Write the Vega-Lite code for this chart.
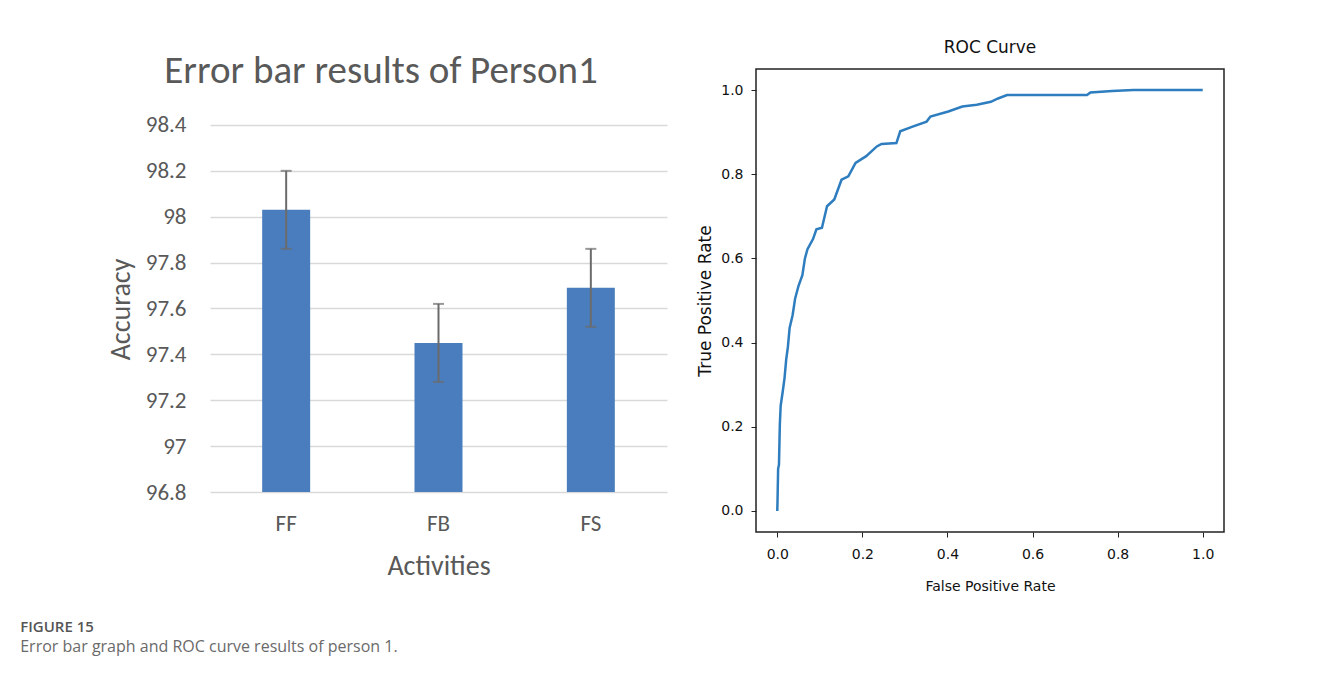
{
  "$schema": "https://vega.github.io/schema/vega-lite/v6.json",
  "background": "white",
  "padding": {"left": 20, "top": 38, "right": 20, "bottom": 20},
  "spacing": 28,
  "title": {
    "text": "FIGURE 15",
    "subtitle": "Error bar graph and ROC curve results of person 1.",
    "orient": "bottom",
    "anchor": "start",
    "frame": "bounds",
    "dx": -87,
    "offset": 26,
    "font": "Open Sans",
    "fontSize": 15,
    "fontWeight": 600,
    "color": "#555555",
    "subtitleFont": "Open Sans",
    "subtitleFontSize": 16,
    "subtitleColor": "#6a6a6a",
    "subtitlePadding": 4
  },
  "datasets": {
    "bars": [
      {"activity": "FF", "accuracy": 98.03, "lo": 97.86, "hi": 98.2},
      {"activity": "FB", "accuracy": 97.45, "lo": 97.28, "hi": 97.62},
      {"activity": "FS", "accuracy": 97.69, "lo": 97.52, "hi": 97.86}
    ],
    "roc": [
      {"fpr": 0.0, "tpr": 0.0},
      {"fpr": 0.0005, "tpr": 0.02},
      {"fpr": 0.002, "tpr": 0.1},
      {"fpr": 0.004, "tpr": 0.11},
      {"fpr": 0.006, "tpr": 0.205},
      {"fpr": 0.008, "tpr": 0.25},
      {"fpr": 0.013, "tpr": 0.285},
      {"fpr": 0.017, "tpr": 0.315},
      {"fpr": 0.021, "tpr": 0.36},
      {"fpr": 0.025, "tpr": 0.39},
      {"fpr": 0.029, "tpr": 0.435},
      {"fpr": 0.036, "tpr": 0.465},
      {"fpr": 0.042, "tpr": 0.505},
      {"fpr": 0.05, "tpr": 0.535},
      {"fpr": 0.059, "tpr": 0.56},
      {"fpr": 0.065, "tpr": 0.6},
      {"fpr": 0.071, "tpr": 0.622},
      {"fpr": 0.084, "tpr": 0.646},
      {"fpr": 0.092, "tpr": 0.669},
      {"fpr": 0.105, "tpr": 0.673},
      {"fpr": 0.117, "tpr": 0.724},
      {"fpr": 0.134, "tpr": 0.74},
      {"fpr": 0.151, "tpr": 0.787},
      {"fpr": 0.167, "tpr": 0.795},
      {"fpr": 0.184, "tpr": 0.827},
      {"fpr": 0.209, "tpr": 0.843},
      {"fpr": 0.234, "tpr": 0.866},
      {"fpr": 0.245, "tpr": 0.872},
      {"fpr": 0.28, "tpr": 0.874},
      {"fpr": 0.289, "tpr": 0.902},
      {"fpr": 0.318, "tpr": 0.913},
      {"fpr": 0.351, "tpr": 0.925},
      {"fpr": 0.36, "tpr": 0.937},
      {"fpr": 0.402, "tpr": 0.949},
      {"fpr": 0.435, "tpr": 0.961},
      {"fpr": 0.469, "tpr": 0.965},
      {"fpr": 0.502, "tpr": 0.972},
      {"fpr": 0.519, "tpr": 0.98},
      {"fpr": 0.54, "tpr": 0.988},
      {"fpr": 0.728, "tpr": 0.988},
      {"fpr": 0.736, "tpr": 0.994},
      {"fpr": 0.787, "tpr": 0.998},
      {"fpr": 0.837, "tpr": 1.0},
      {"fpr": 1.0, "tpr": 1.0}
    ]
  },
  "hconcat": [
    {
      "width": 457,
      "height": 423,
      "data": {"name": "bars"},
      "title": {
        "text": "Error bar results of Person1",
        "anchor": "middle",
        "frame": "bounds",
        "offset": -22,
        "dx": -6,
        "font": "Carlito, Lato, sans-serif",
        "fontSize": 39,
        "fontWeight": "normal",
        "color": "#595959"
      },
      "layer": [
        {
          "mark": {"type": "bar", "color": "#4a7dbd"},
          "encoding": {
            "x": {
              "field": "activity",
              "type": "nominal",
              "sort": ["FF", "FB", "FS"],
              "scale": {"paddingInner": 0.685, "paddingOuter": 0.3425},
              "axis": {
                "title": "Activities",
                "labelAngle": 0,
                "ticks": false,
                "domain": false,
                "labelPadding": 20,
                "titlePadding": 17,
                "labelFont": "Carlito, Lato, sans-serif",
                "labelFontSize": 23,
                "labelColor": "#595959",
                "titleFont": "Carlito, Lato, sans-serif",
                "titleFontSize": 28,
                "titleFontWeight": "normal",
                "titleColor": "#595959"
              }
            },
            "y": {
              "field": "accuracy",
              "type": "quantitative",
              "scale": {"domain": [96.8, 98.644], "nice": false, "zero": false},
              "axis": {
                "title": "Accuracy",
                "values": [96.8, 97, 97.2, 97.4, 97.6, 97.8, 98, 98.2, 98.4],
                "format": "~g",
                "ticks": false,
                "domain": false,
                "grid": true,
                "gridColor": "#d9d9d9",
                "gridWidth": 1.5,
                "labelPadding": 24,
                "titlePadding": 10,
                "titleY": 240,
                "labelFont": "Carlito, Lato, sans-serif",
                "labelFontSize": 23,
                "labelColor": "#595959",
                "titleFont": "Carlito, Lato, sans-serif",
                "titleFontSize": 28,
                "titleFontWeight": "normal",
                "titleColor": "#595959"
              }
            },
            "y2": {"datum": 96.8}
          }
        },
        {
          "mark": {"type": "errorbar", "ticks": {"size": 11}, "color": "#6b6b6b", "thickness": 2},
          "encoding": {
            "x": {"field": "activity", "type": "nominal", "sort": ["FF", "FB", "FS"]},
            "y": {"field": "lo", "type": "quantitative", "title": "Accuracy"},
            "y2": {"field": "hi"}
          }
        }
      ]
    },
    {
      "width": 468,
      "height": 463,
      "data": {"name": "roc"},
      "view": {"stroke": "#222222", "strokeWidth": 1.5},
      "title": {
        "text": "ROC Curve",
        "anchor": "middle",
        "frame": "group",
        "offset": 12,
        "font": "DejaVu Sans",
        "fontSize": 17,
        "fontWeight": "normal",
        "color": "#111111"
      },
      "mark": {"type": "line", "color": "#2e7dbf", "strokeWidth": 2.5},
      "encoding": {
        "x": {
          "field": "fpr",
          "type": "quantitative",
          "scale": {"domain": [-0.05, 1.05], "nice": false, "zero": false},
          "axis": {
            "title": "False Positive Rate",
            "values": [0, 0.2, 0.4, 0.6, 0.8, 1.0],
            "format": ".1f",
            "grid": false,
            "domain": false,
            "ticks": true,
            "tickSize": 5,
            "tickColor": "#222222",
            "labelPadding": 10,
            "titlePadding": 18,
            "labelFont": "DejaVu Sans",
            "labelFontSize": 14,
            "labelColor": "#111111",
            "titleFont": "DejaVu Sans",
            "titleFontSize": 14,
            "titleFontWeight": "normal",
            "titleColor": "#111111"
          }
        },
        "y": {
          "field": "tpr",
          "type": "quantitative",
          "scale": {"domain": [-0.05, 1.05], "nice": false, "zero": false},
          "axis": {
            "title": "True Positive Rate",
            "values": [0, 0.2, 0.4, 0.6, 0.8, 1.0],
            "format": ".1f",
            "grid": false,
            "domain": false,
            "ticks": true,
            "tickSize": 5,
            "tickColor": "#222222",
            "labelPadding": 8,
            "titlePadding": 6,
            "labelFont": "DejaVu Sans",
            "labelFontSize": 14,
            "labelColor": "#111111",
            "titleFont": "DejaVu Sans",
            "titleFontSize": 17,
            "titleFontWeight": "normal",
            "titleColor": "#111111"
          }
        }
      }
    }
  ],
  "config": {
    "view": {"stroke": null}
  }
}
